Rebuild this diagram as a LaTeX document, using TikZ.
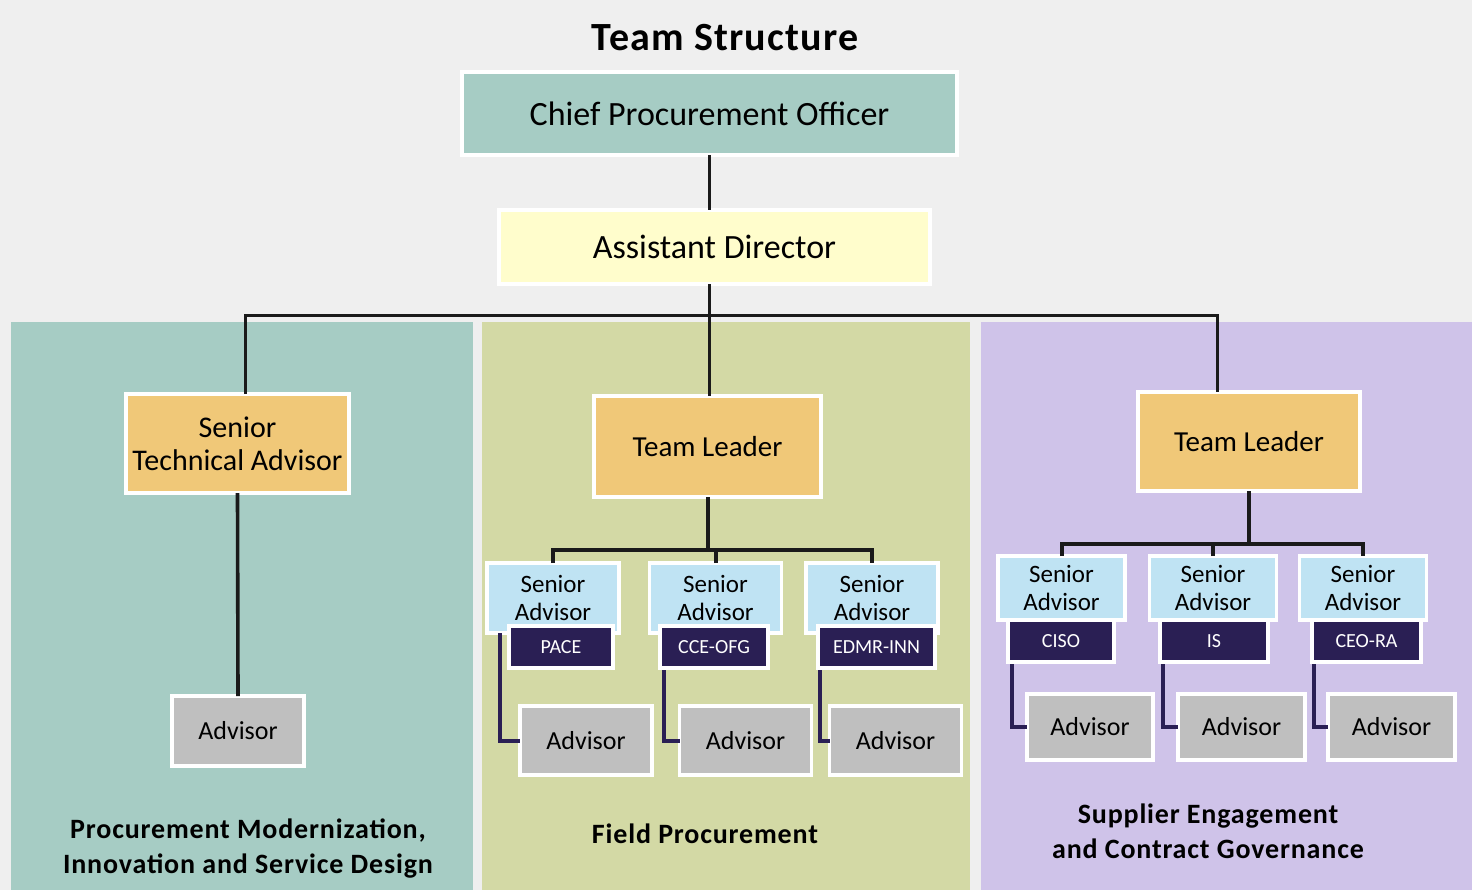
\documentclass[tikz,border=0pt]{standalone}
\usepackage{fontspec}
\setmainfont{Carlito}[BoldFeatures={LetterSpace=3}]
\definecolor{bgc}{HTML}{EFEFEF}
\definecolor{teal}{HTML}{A6CCC4}
\definecolor{olive}{HTML}{D3D9A5}
\definecolor{lav}{HTML}{CFC3E9}
\definecolor{orng}{HTML}{F0C878}
\definecolor{lyel}{HTML}{FFFDCC}
\definecolor{lblue}{HTML}{BFE3F3}
\definecolor{navy}{HTML}{2A1F54}
\definecolor{grayb}{HTML}{BFBFBF}
\definecolor{linec}{HTML}{1A1A1A}
\tikzset{
  sz/.style 2 args={minimum width={#1*0.5pt}, minimum height={#2*0.5pt}},
  box/.style={draw=white, line width=1.7pt, inner sep=0pt, outer sep=0pt, align=center, text=black},
  topbox/.style={box, font=\fontsize{17}{20}\selectfont},
  leadbox/.style={box, fill=orng, font=\fontsize{14.5}{16.5}\selectfont},
  sabox/.style={box, fill=lblue, sz={132}{70}, font=\fontsize{12.5}{13.8}\selectfont},
  sabox3/.style={box, fill=lblue, sz={127}{64}, font=\fontsize{12.5}{13.8}\selectfont},
  tagbox/.style={box, fill=navy, text=white, font=\fontsize{10}{12}\selectfont},
  advbox/.style={box, fill=grayb, font=\fontsize{13}{15}\selectfont},
  bline/.style={draw=linec, line width=1.5pt},
  tline/.style={draw=linec, line width=2pt},
  pline/.style={draw=navy, line width=2pt},
  lbl/.style={align=center, font=\bfseries\fontsize{14}{17.5}\selectfont, inner sep=0pt},
}
\begin{document}
\begin{tikzpicture}[x=0.5pt,y=-0.5pt]
\useasboundingbox (0,0) rectangle (1472,890);
\fill[bgc] (0,0) rectangle (1472,890);
% panels
\fill[teal] (11,322) rectangle (473,890);
\fill[olive] (482,322) rectangle (970,890);
\fill[lav] (981,322) rectangle (1472,890);

\node[inner sep=0pt, font=\bfseries\fontsize{20}{24}\selectfont] (title) at (725,38) {Team Structure};

% coordinates for buses
\coordinate (trunk) at (709,315);
\coordinate (busL) at (245,315);
\coordinate (busR) at (1217,315);
\coordinate (b2) at (0,550);
\coordinate (b3) at (0,544);

% top nodes
\node[topbox, fill=teal, sz={495}{83}] (cpo) at (709.5,113.5) {Chief Procurement Officer};
\node[topbox, fill=lyel, sz={431}{74}] (ad) at (714.5,247) {Assistant Director};

% leaders
\node[leadbox, sz={223}{99}, font=\fontsize{15}{16.5}\selectfont] (sta) at (237.5,443.5) {Senior\\Technical Advisor};
\node[leadbox, sz={227}{101}] (tl2) at (707.5,446.5) {Team Leader};
\node[leadbox, sz={222}{99}] (tl3) at (1249,441.5) {Team Leader};

% top connectors
\draw[bline] (cpo.south -| trunk) -- (ad.north -| trunk);
\draw[bline] (ad.south -| trunk) -- (tl2.north -| trunk);
\draw[bline] (sta.north -| busL) -- (busL) -- (busR) -- (tl3.north -| busR);

% left panel advisor
\node[advbox, sz={132}{70}] (adv1) at (238,731) {Advisor};
\draw[tline, line width=1.8pt] (sta.south) -- (adv1.north);

% team 2
\node[sabox] (sa2a) at (553,598) {Senior\\Advisor};
\node[sabox] (sa2b) at (715.5,598) {Senior\\Advisor};
\node[sabox] (sa2c) at (872,598) {Senior\\Advisor};
\node[advbox, sz={132}{69}] (adv2a) at (586,740.5) {Advisor};
\node[advbox, sz={132}{69}] (adv2b) at (745.5,740.5) {Advisor};
\node[advbox, sz={132}{69}] (adv2c) at (895.5,740.5) {Advisor};
\draw[pline] ([xshift=6.5pt]sa2a.south west) |- (adv2a.west);
\draw[pline] ([xshift=7pt]sa2b.south west) |- (adv2b.west);
\draw[pline] ([xshift=7pt]sa2c.south west) |- (adv2c.west);
\node[tagbox, sz={104}{42}] (t2a) at (561,647) {PACE};
\node[tagbox, sz={108}{42}] (t2b) at (714,647) {CCE-OFG};
\node[tagbox, sz={117}{42}] (t2c) at (876.5,647) {EDMR-INN};
\draw[tline] (tl2.south) -- (tl2.south |- b2);
\draw[tline] (sa2a.north) -- (sa2a.north |- b2) -- (sa2c.north |- b2) -- (sa2c.north);
\draw[tline] (sa2b.north) -- (sa2b.north |- b2);

% team 3
\node[sabox3] (sa3a) at (1061.5,588) {Senior\\Advisor};
\node[sabox3] (sa3b) at (1213,588) {Senior\\Advisor};
\node[sabox3] (sa3c) at (1363,588) {Senior\\Advisor};
\node[advbox, sz={126}{66}] (adv3a) at (1090,727) {Advisor};
\node[advbox, sz={127}{66}] (adv3b) at (1241.5,727) {Advisor};
\node[advbox, sz={127}{66}] (adv3c) at (1391.5,727) {Advisor};
\draw[pline] ([xshift=7pt]sa3a.south west) |- (adv3a.west);
\draw[pline] ([xshift=6.5pt]sa3b.south west) |- (adv3b.west);
\draw[pline] ([xshift=7pt]sa3c.south west) |- (adv3c.west);
\node[tagbox, sz={106}{42}] (t3a) at (1061,641) {CISO};
\node[tagbox, sz={108}{42}] (t3b) at (1214,641) {IS};
\node[tagbox, sz={109}{42}] (t3c) at (1366.5,641) {CEO-RA};
\draw[tline] (tl3.south) -- (tl3.south |- b3);
\draw[tline] (sa3a.north) -- (sa3a.north |- b3) -- (sa3c.north |- b3) -- (sa3c.north);
\draw[tline] (sa3b.north) -- (sa3b.north |- b3);

% labels
\node[lbl] (l1) at (248,849) {Procurement Modernization,\\Innovation and Service Design};
\node[lbl] (l2) at (705,834) {Field Procurement};
\node[lbl] (l3) at (1208,831) {Supplier Engagement\\and Contract Governance};
\end{tikzpicture}
\end{document}
